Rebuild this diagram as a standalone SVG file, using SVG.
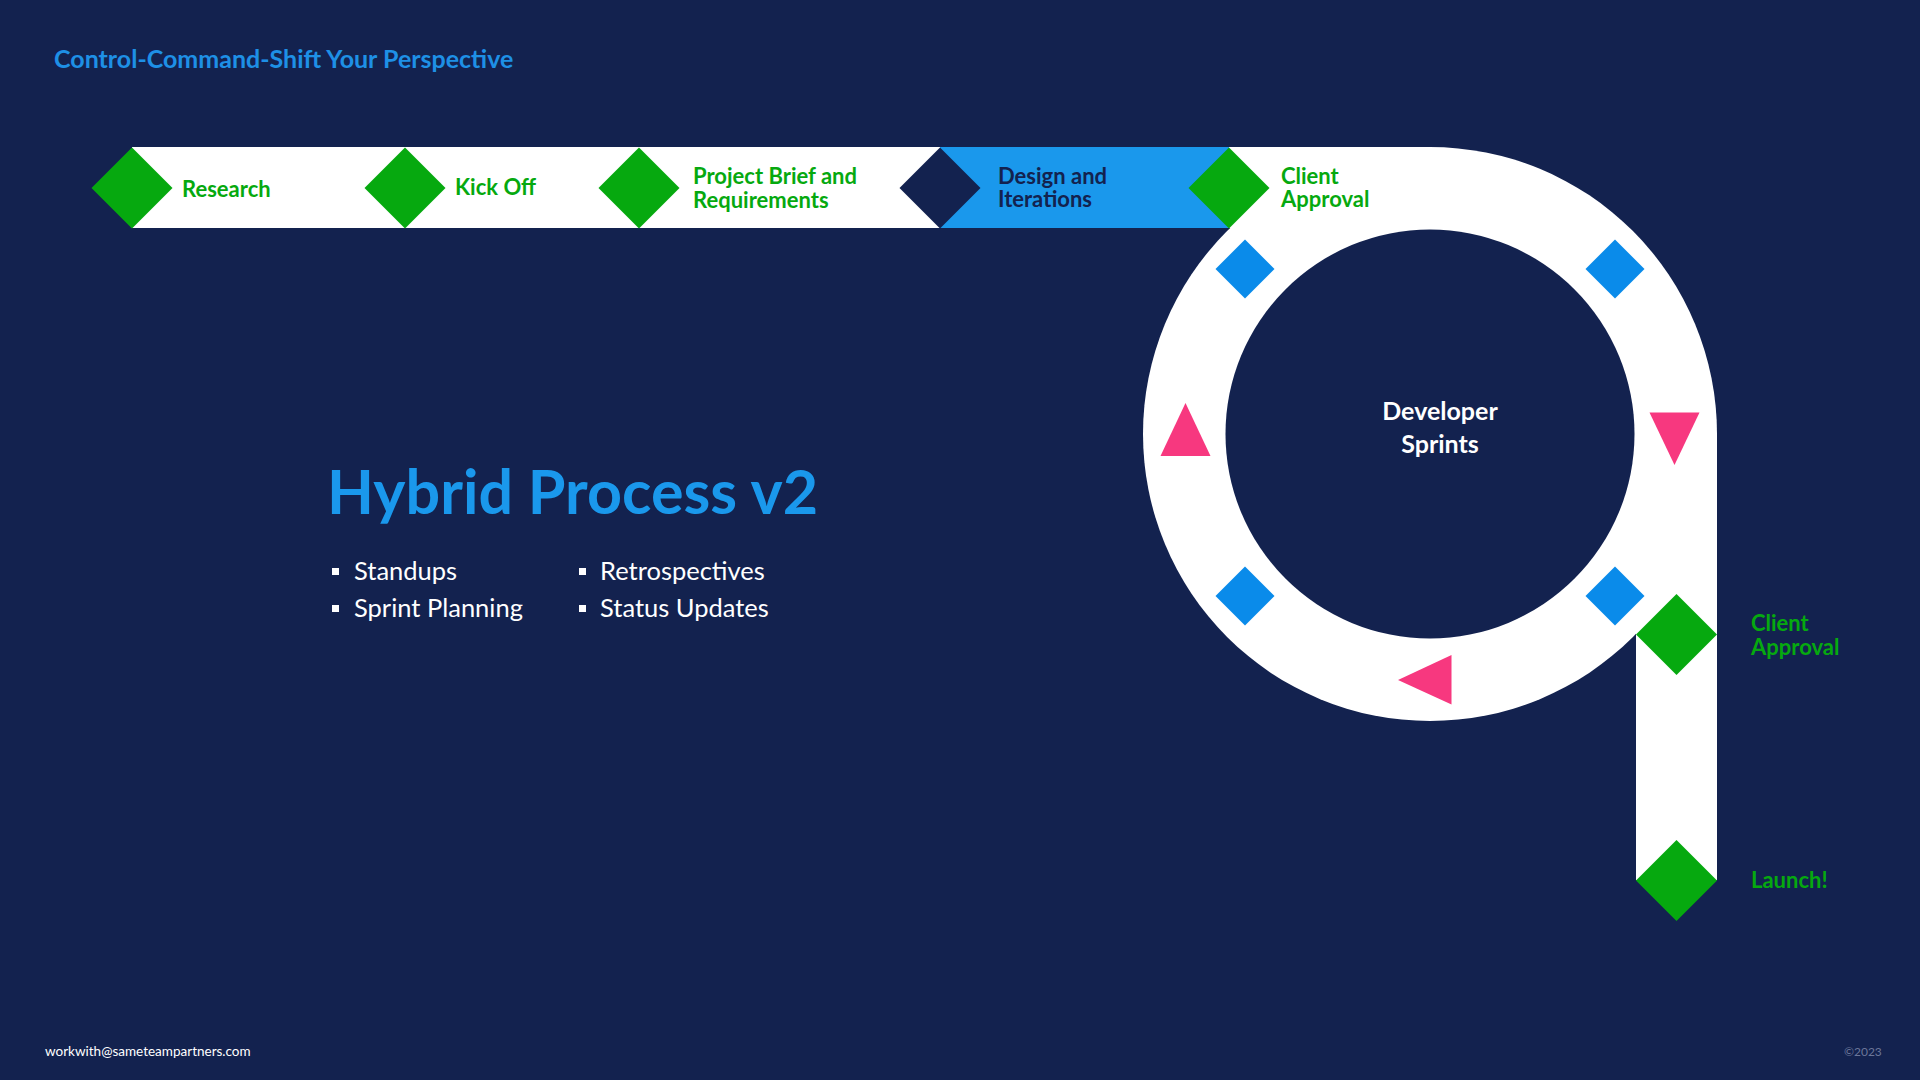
<svg xmlns="http://www.w3.org/2000/svg" width="1920" height="1080" viewBox="0 0 1920 1080">
  <defs>
    <style>
      .bg { fill: #13224F; }
      .track { fill: #FFFFFF; }
      .green { fill: #06A90F; }
      .navy { fill: #13224F; }
      .blue { fill: #1A98EC; }
      .sq { fill: #0A8BEA; }
      .pink { fill: #F7387F; }
      .lbl { font-family: Lato, "Liberation Sans", sans-serif; font-weight: 700; font-size: 22px; fill: #06A90F; }
      .lbl-dark { font-family: Lato, "Liberation Sans", sans-serif; font-weight: 700; font-size: 22px; fill: #13224F; }
      .title { font-family: Lato, "Liberation Sans", sans-serif; font-weight: 700; font-size: 25px; fill: #1E90E6; }
      .head { font-family: Lato, "Liberation Sans", sans-serif; font-weight: 700; font-size: 61px; fill: #1A98EC; }
      .item { font-family: Lato, "Liberation Sans", sans-serif; font-weight: 400; font-size: 25.5px; fill: #FFFFFF; }
      .center { font-family: Lato, "Liberation Sans", sans-serif; font-weight: 700; font-size: 25px; fill: #FFFFFF; text-anchor: middle; }
      .foot { font-family: Lato, "Liberation Sans", sans-serif; font-weight: 400; font-size: 13.5px; fill: #FFFFFF; }
      .copy { font-family: Lato, "Liberation Sans", sans-serif; font-weight: 400; font-size: 12px; fill: #6B7699; }
    </style>
  </defs>

  <rect class="bg" x="0" y="0" width="1920" height="1080"/>

  <text class="title" x="54" y="68">Control-Command-Shift Your Perspective</text>

  <!-- track (connectors) -->
  <g id="connectors">
    <rect class="track" x="132" y="147" width="1300" height="81"/>
    <rect class="blue" x="940" y="147" width="289" height="81"/>
    <circle class="track" cx="1430" cy="434" r="287"/>
    <rect class="track" x="1636" y="434" width="81" height="446"/>
    <circle class="navy" cx="1430" cy="434" r="204.5"/>
    <polygon class="sq" points="1245,239.5 1274.5,269 1245,298.5 1215.5,269"/>
    <polygon class="sq" points="1615,239.5 1644.5,269 1615,298.5 1585.5,269"/>
    <polygon class="sq" points="1245,566.5 1274.5,596 1245,625.5 1215.5,596"/>
    <polygon class="sq" points="1615,566.5 1644.5,596 1615,625.5 1585.5,596"/>
    <polygon class="pink" points="1185.5,403 1210.5,456 1160.5,456"/>
    <polygon class="pink" points="1649.5,412.5 1699.5,412.5 1674.5,465"/>
    <polygon class="pink" points="1398,680 1451.5,655 1451.5,704.5"/>
  </g>

  <g id="node-research">
    <polygon class="green" points="132,147.5 172.5,188 132,228.5 91.5,188"/>
    <text class="lbl" x="182" y="197">Research</text>
  </g>
  <g id="node-kickoff">
    <polygon class="green" points="405,147.5 445.5,188 405,228.5 364.5,188"/>
    <text class="lbl" x="455" y="195">Kick Off</text>
  </g>
  <g id="node-brief">
    <polygon class="green" points="639,147.5 679.5,188 639,228.5 598.5,188"/>
    <text class="lbl" x="693" y="184">Project Brief and</text>
    <text class="lbl" x="693" y="207.5">Requirements</text>
  </g>
  <g id="node-design">
    <polygon class="navy" points="940,147.5 980.5,188 940,228.5 899.5,188"/>
    <text class="lbl-dark" x="998" y="183.5">Design and</text>
    <text class="lbl-dark" x="998" y="207">Iterations</text>
  </g>
  <g id="node-approval-1">
    <polygon class="green" points="1229,147.5 1269.5,188 1229,228.5 1188.5,188"/>
    <text class="lbl" x="1281" y="183.5">Client</text>
    <text class="lbl" x="1281" y="207">Approval</text>
  </g>
  <g id="node-sprints">
    <text class="center" x="1440" y="420">Developer</text>
    <text class="center" x="1440" y="453">Sprints</text>
  </g>
  <g id="node-approval-2">
    <polygon class="green" points="1676.5,594 1717,634.5 1676.5,675 1636,634.5"/>
    <text class="lbl" x="1751" y="631">Client</text>
    <text class="lbl" x="1751" y="654.5">Approval</text>
  </g>
  <g id="node-launch">
    <polygon class="green" points="1676.5,840 1717,880.5 1676.5,921 1636,880.5"/>
    <text class="lbl" x="1751" y="888">Launch!</text>
  </g>

  <g id="summary">
    <text class="head" x="327" y="514">Hybrid Process v2</text>
    <rect fill="#FFFFFF" x="332" y="568" width="7" height="7"/>
    <text class="item" x="354" y="580">Standups</text>
    <rect fill="#FFFFFF" x="332" y="605" width="7" height="7"/>
    <text class="item" x="354" y="617">Sprint Planning</text>
    <rect fill="#FFFFFF" x="579" y="568" width="7" height="7"/>
    <text class="item" x="600" y="580">Retrospectives</text>
    <rect fill="#FFFFFF" x="579" y="605" width="7" height="7"/>
    <text class="item" x="600" y="617">Status Updates</text>
  </g>

  <text class="foot" x="45" y="1056">workwith@sameteampartners.com</text>
  <text class="copy" x="1844" y="1056">©2023</text>
</svg>
